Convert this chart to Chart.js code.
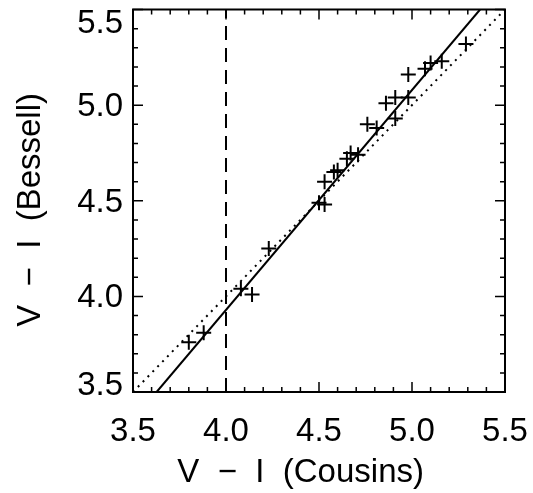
<!DOCTYPE html>
<html>
<head>
<meta charset="utf-8">
<script src="https://cdn.jsdelivr.net/npm/chart.js@4.4.1/dist/chart.umd.min.js"></script>
<style>
html, body { margin: 0; padding: 0; background: #fff; }
</style>
</head>
<body>
<canvas id="myChart" width="533" height="493"></canvas>
<script>
// V-I colours: Cousins (x) against Bessell (y)
var cousinsVI = [3.80, 3.88, 4.08, 4.14, 4.23, 4.50, 4.53, 4.53, 4.58, 4.60, 4.65, 4.67,
                 4.71, 4.76, 4.81, 4.86, 4.91, 4.91, 4.98, 4.98, 5.07, 5.10, 5.16, 5.29];
var besselVI  = [3.76, 3.81, 4.04, 4.01, 4.25, 4.49, 4.48, 4.60, 4.65, 4.66, 4.72, 4.75,
                 4.74, 4.90, 4.88, 5.01, 5.04, 4.93, 5.04, 5.16, 5.19, 5.22, 5.23, 5.32];

// fitted relation (solid), one-to-one (dotted) and the 4.0 cut (dashed)
var fitX = [3.627, 5.366];
var fitY = [3.5, 5.5];
var equalX = [3.5, 5.5];
var equalY = [3.5, 5.5];
var cutX = [4.0, 4.0];
var cutY = [3.5, 5.5];

var axisMin = 3.5;
var axisMax = 5.5;
var yTickLabels = [3.5, 4.0, 4.5, 5.0, 5.5];

var fontFamily = "'Liberation Sans', Arial, sans-serif";
var fontSize = 33;

function toPoints(xs, ys) {
    return xs.map(function (x, i) { return { x: x, y: ys[i] }; });
}

// IDL style frame: inward ticks on all four sides + y tick labels
var idlFrame = {
    id: "idlFrame",
    afterDatasetsDraw: function (chart) {
        var ctx = chart.ctx;
        var a = chart.chartArea;
        var xs = chart.scales.x;
        var ys = chart.scales.y;
        ctx.save();
        ctx.strokeStyle = "#000";
        ctx.lineWidth = 2;
        ctx.strokeRect(a.left, a.top, a.right - a.left, a.bottom - a.top);
        ctx.lineWidth = 1.5;
        ctx.beginPath();
        for (var i = 0; i <= 20; i++) {
            var v = axisMin + i * 0.1;
            var len = i % 5 === 0 ? 10 : 5;
            var px = xs.getPixelForValue(v);
            var py = ys.getPixelForValue(v);
            ctx.moveTo(px, a.bottom); ctx.lineTo(px, a.bottom - len);
            ctx.moveTo(px, a.top); ctx.lineTo(px, a.top + len);
            ctx.moveTo(a.left, py); ctx.lineTo(a.left + len, py);
            ctx.moveTo(a.right, py); ctx.lineTo(a.right - len, py);
        }
        ctx.stroke();

        ctx.fillStyle = "#000";
        ctx.font = fontSize + "px " + fontFamily;
        ctx.textAlign = "right";
        ctx.textBaseline = "middle";
        yTickLabels.forEach(function (t) {
            var y = ys.getPixelForValue(t);
            y = Math.min(Math.max(y, a.top + 12), a.bottom - 8);
            ctx.fillText(t.toFixed(1), a.left - 10, y + 2);
        });
        ctx.restore();
    }
};

var ctx = document.getElementById("myChart").getContext("2d");
var colourChart = new Chart(ctx, {
    type: "scatter",
    data: {
        datasets: [{
            label: "stars",
            data: toPoints(cousinsVI, besselVI),
            pointStyle: "cross",
            pointRadius: 7.5,
            borderColor: "#000",
            borderWidth: 2,
            showLine: false,
        }, {
            label: "fit",
            data: toPoints(fitX, fitY),
            showLine: true,
            pointRadius: 0,
            borderColor: "#000",
            borderWidth: 2,
        }, {
            label: "one to one",
            data: toPoints(equalX, equalY),
            showLine: true,
            pointRadius: 0,
            borderColor: "#000",
            borderWidth: 2,
            borderDash: [2, 5],
        }, {
            label: "cut",
            data: toPoints(cutX, cutY),
            showLine: true,
            pointRadius: 0,
            borderColor: "#000",
            borderWidth: 2,
            borderDash: [14, 8],
        }],
    },
    options: {
        responsive: false,
        animation: false,
        devicePixelRatio: 1,
        layout: { padding: { top: 9, right: 28, left: 0, bottom: 0 } },
        plugins: {
            legend: { display: false },
            tooltip: { enabled: false },
        },
        scales: {
            x: {
                type: "linear",
                min: axisMin,
                max: axisMax,
                grid: { display: false, drawTicks: false },
                border: { display: false },
                ticks: {
                    stepSize: 0.5,
                    autoSkip: false,
                    maxRotation: 0,
                    padding: 20,
                    color: "#000",
                    font: { family: fontFamily, size: fontSize },
                    callback: function (v) { return v.toFixed(1); },
                },
                title: {
                    display: true,
                    text: "V  \u2212  I  (Cousins)    ",
                    color: "#000",
                    font: { family: fontFamily, size: fontSize },
                    padding: { top: 0, bottom: 0 },
                },
                afterFit: function (scale) {
                    scale.height = 101;
                    scale.paddingLeft = 0;
                    scale.paddingRight = 0;
                },
            },
            y: {
                type: "linear",
                min: axisMin,
                max: axisMax,
                grid: { display: false, drawTicks: false },
                border: { display: false },
                ticks: { display: false, stepSize: 0.5 },
                title: {
                    display: true,
                    text: "V  \u2212  I  (Bessell)  ",
                    color: "#000",
                    font: { family: fontFamily, size: fontSize },
                    padding: { top: 11, bottom: 0 },
                },
                afterFit: function (scale) { scale.width = 133; },
            },
        },
    },
    plugins: [idlFrame],
});
</script>
</body>
</html>
